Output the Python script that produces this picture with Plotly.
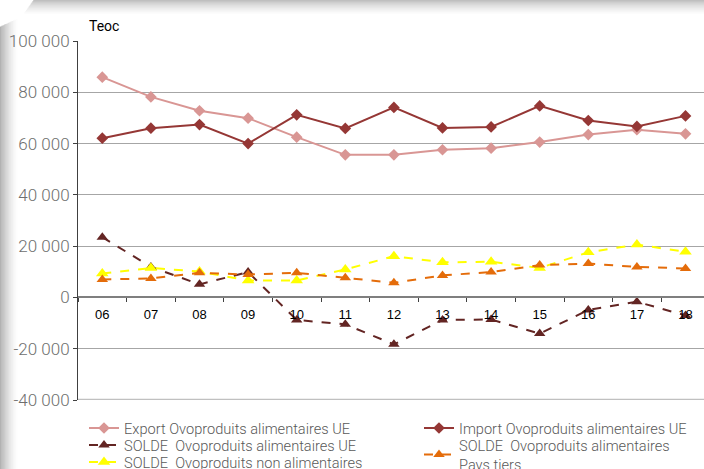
import plotly.graph_objects as go

years = ["06", "07", "08", "09", "10", "11", "12", "13", "14", "15", "16", "17", "18"]
export_ue = [85900, 78200, 72800, 69900, 62500, 55600, 55600, 57600, 58200, 60600, 63500, 65400, 63800]
import_ue = [62100, 66000, 67400, 60000, 71200, 65900, 74100, 66100, 66500, 74700, 69000, 66700, 70800]
solde_ue = [23500, 11900, 5100, 9900, -8800, -10500, -18300, -8800, -8600, -14100, -4900, -1700, -7000]
solde_non_alim = [9300, 11500, 10100, 6600, 6600, 10900, 16100, 13700, 13900, 11500, 17600, 20600, 17800]
solde_pays_tiers = [7000, 7400, 9600, 8900, 9600, 7700, 5700, 8600, 9900, 12600, 13200, 11900, 11300]
y_ticks = [-40000, -20000, 0, 20000, 40000, 60000, 80000, 100000]
y_labels = ["-40 000", "-20 000", "0", "20 000", "40 000", "60 000", "80 000", "100 000"]

FONT = "Roboto, sans-serif"
xi = list(range(len(years)))

W, H = 704, 469
L, R, T, B = 78, 0, 41, 69
pw, ph = W - L - R, H - T - B

fig = go.Figure()

# (name, values, color, symbol, dash, size, legend id, legend x px, legend row centre px)
series = [
    ("Export Ovoproduits alimentaires UE", export_ue, "#d99694", "diamond", "solid", 9, "legend", 84, 427),
    ("SOLDE  Ovoproduits alimentaires UE", solde_ue, "#632523", "triangle-up", "dash", 10, "legend2", 84, 444),
    ("SOLDE  Ovoproduits non alimentaires", solde_non_alim, "#ffff00", "triangle-up", "dash", 11, "legend3", 84, 461),
    ("Import Ovoproduits alimentaires UE", import_ue, "#953735", "diamond", "solid", 9, "legend4", 419, 427),
    ("SOLDE  Ovoproduits alimentaires<br>Pays tiers", solde_pays_tiers, "#e46c0a", "triangle-up", "dash", 10, "legend5", 419, 444),
]

legends = {}
for name, vals, color, symbol, dash, size, lg, lx, ly in series:
    fig.add_trace(go.Scatter(
        x=xi, y=vals, name=name, mode="lines+markers",
        line=dict(color=color, width=2, dash=dash),
        marker=dict(symbol=symbol, size=size, color=color),
        legend=lg, showlegend=True,
    ))
    legends[lg] = dict(
        xref="container", yref="container", x=lx / W, y=1 - (ly - 15) / H,
        xanchor="left", yanchor="top", orientation="v",
        font=dict(family=FONT, size=14.6, color="#595959", weight=300),
        itemwidth=30, bgcolor="rgba(0,0,0,0)", borderwidth=0,
    )

def px_to_paper_x(px):
    return (px - L) / pw
def px_to_paper_y(py):
    return (H - B - py) / ph

# decorative card shadow
shapes = []
n = 14
for i in range(n):
    a = 0.30 * (1 - i / n) ** 1.6
    shapes.append(dict(type="rect", xref="paper", yref="paper",
                       x0=px_to_paper_x(i * 1.3), x1=px_to_paper_x((i + 1) * 1.3),
                       y0=px_to_paper_y(H), y1=px_to_paper_y(18 + (n - i) * 0.6),
                       fillcolor=f"rgba(0,0,0,{a:.3f})", line=dict(width=0), layer="below"))
for i in range(n):
    a = 0.25 * (1 - i / n) ** 1.6
    shapes.append(dict(type="rect", xref="paper", yref="paper",
                       x0=px_to_paper_x(22 + (n - i) * 0.8), x1=px_to_paper_x(W),
                       y0=px_to_paper_y((i + 1) * 1.1), y1=px_to_paper_y(i * 1.1),
                       fillcolor=f"rgba(0,0,0,{a:.3f})", line=dict(width=0), layer="below"))
shapes.append(dict(type="line", xref="paper", yref="y", x0=0, x1=1, y0=-40000, y1=-40000,
                   line=dict(color="#c0c0c0", width=2.5)))

fig.update_layout(
    width=W, height=H,
    showlegend=True,
    margin=dict(l=L, r=R, t=T, b=B, pad=0, autoexpand=False),
    paper_bgcolor="white", plot_bgcolor="white",
    shapes=shapes,
    xaxis=dict(
        range=[-0.5, -0.5 + pw / 48.6],
        tickvals=xi, ticktext=years,
        anchor="free", position=40000 / 140000,
        showline=True, linecolor="#7f7f7f", linewidth=1.5,
        showgrid=False, zeroline=False,
        ticks="", ticklen=0, ticklabelstandoff=5,
        tickfont=dict(family="Liberation Sans, Arial, sans-serif", size=13, color="#000000"),
        minor=dict(tick0=0.5, dtick=1, ticks="outside", ticklen=4, tickcolor="#404040", showgrid=False),
    ),
    yaxis=dict(
        range=[-40000, 100000],
        tickvals=y_ticks, ticktext=y_labels,
        showgrid=True, gridcolor="#a6a6a6", gridwidth=1,
        zeroline=False,
        showline=True, linecolor="#404040", linewidth=1,
        ticks="outside", ticklen=4, tickcolor="#404040",
        tickfont=dict(family=FONT, size=17, color="#6e6e6e", weight=300),
    ),
    annotations=[dict(text="Teoc", xref="paper", yref="paper",
                      x=px_to_paper_x(87), y=px_to_paper_y(26), xanchor="left", yanchor="middle",
                      showarrow=False, font=dict(family=FONT, size=14, color="#000000"))],
    **legends,
)

fig.write_html("out.html", config={"displayModeBar": False},
               post_script="document.body.style.margin='0';document.body.style.padding='0';")
